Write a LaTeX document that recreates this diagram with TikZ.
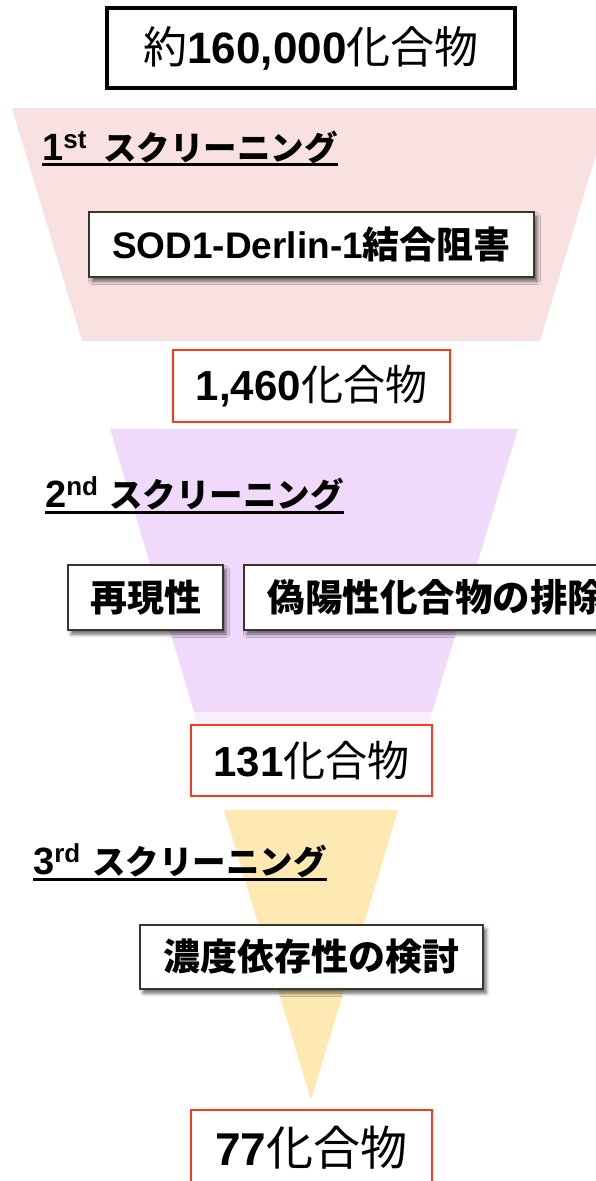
\documentclass[tikz,border=0pt]{standalone}
\usepackage{fontspec}
\setmainfont{Liberation Sans}
\newfontfamily\jp{Noto Sans CJK JP}
\usetikzlibrary{shadows.blur}
\definecolor{pinkfill}{HTML}{F9E1E2}
\definecolor{purplefill}{HTML}{F1D9FB}
\definecolor{purplelight}{HTML}{FAEDFC}
\definecolor{yellowfill}{HTML}{FEE9B3}
\definecolor{boxred}{HTML}{FF3A1A}
\definecolor{boxdark}{HTML}{3A352E}
\newcommand{\fsz}[1]{\fontsize{#1}{#1}\selectfont}
\newcommand{\heading}[3]{{\fsz{38}\bfseries #1}\raisebox{12pt}{\fsz{26}\bfseries #2}\hspace{#3pt}{\jp\bfseries\fsz{33.5}スクリーニング}}
\tikzset{
  topbox/.style={draw=black, line width=3.5pt, fill=white, minimum width=408pt, minimum height=80pt, inner sep=0pt},
  countbox/.style={draw=boxred, line width=1.6pt, fill=white, inner sep=0pt},
  stepbox/.style={draw=boxdark, line width=1.6pt, fill=white, inner sep=0pt,
    blur shadow={shadow xshift=3pt, shadow yshift=-4pt, shadow blur radius=3.5pt, shadow opacity=60}},
  headtext/.style={anchor=base west, inner sep=0pt},
  uline/.style={line width=3pt}
}
\begin{document}
\begin{tikzpicture}[x=1pt,y=-1pt]
\useasboundingbox (0,0) rectangle (596,1181);
% funnels
\fill[pinkfill] (12,108) -- (610,108) -- (540,341) -- (82,341) -- cycle;
\fill[purplefill] (110,429) -- (518,429) -- (432,712) -- (194,712) -- cycle;
\fill[purplelight] (194,712) -- (432,712) -- (429,723) -- (197,723) -- cycle;
\fill[yellowfill] (224,810) -- (398,810) -- (311,1100) -- cycle;
% top box
\node[topbox] (start) at (311,48) {{\jp\fsz{44}約}{\fsz{44}\bfseries 160,000}{\jp\fsz{44}化合物}};
% stage 1
\node[headtext] (h1) at (42,160) {\heading{1}{st}{17}};
\draw[uline] ([yshift=-4.5pt]h1.base west) -- ([yshift=-4.5pt]h1.base east);
\node[stepbox, minimum width=445pt, minimum height=65pt] (s1) at (311.5,244.5) {\fsz{37}\bfseries SOD1-Derlin-1{\jp 結合阻害}};
\node[countbox, minimum width=277pt, minimum height=72pt] (c1) at (311.5,386) {{\fsz{42}\bfseries 1,460}{\jp\fsz{42}化合物}};
% stage 2
\node[headtext] (h2) at (45,507) {\heading{2}{nd}{11}};
\draw[uline] ([yshift=-5pt]h2.base west) -- ([yshift=-5pt]h2.base east);
\node[stepbox, minimum width=155pt, minimum height=65pt] (s2a) at (145.5,597.5) {\jp\bfseries\fsz{37}再現性};
\node[stepbox, minimum height=65pt, anchor=west, inner xsep=24pt] (s2b) at (243,597.5) {\jp\bfseries\fsz{37.5}偽陽性化合物の排除};
\node[countbox, minimum width=241pt, minimum height=71pt] (c2) at (311.5,760.5) {{\fsz{42}\bfseries 131}{\jp\fsz{42}化合物}};
% stage 3
\node[headtext] (h3) at (33,874) {\heading{3}{rd}{12}};
\draw[uline] ([yshift=-5pt]h3.base west) -- ([yshift=-5pt]h3.base east);
\node[stepbox, minimum width=343pt, minimum height=64pt] (s3) at (311.5,957) {\jp\bfseries\fsz{37}濃度依存性の検討};
\node[countbox, minimum width=241pt, minimum height=95pt, anchor=north] (c3) at (311.5,1109) {};
\node[inner sep=0pt] (t3) at (311.5,1148) {{\fsz{46}\bfseries 77}{\jp\fsz{47}化合物}};
\end{tikzpicture}
\end{document}
